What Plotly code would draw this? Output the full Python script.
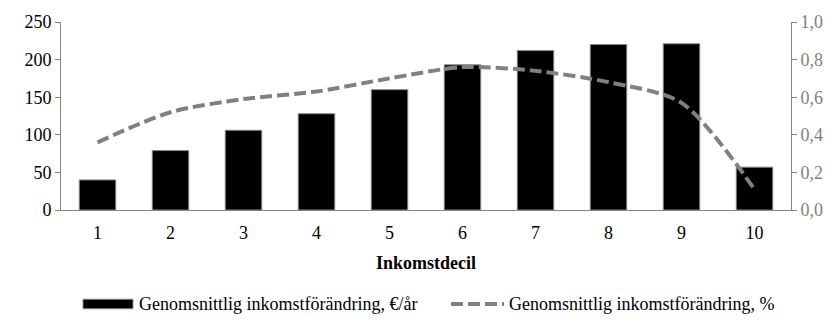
import plotly.graph_objects as go

# Income deciles and average income change per decile
deciles = ["1", "2", "3", "4", "5", "6", "7", "8", "9", "10"]
change_eur = [40, 79, 106, 128, 160, 193, 212, 220, 221, 57]
change_pct = [0.36, 0.52, 0.59, 0.63, 0.70, 0.76, 0.74, 0.68, 0.57, 0.11]

left_ticks = [0, 50, 100, 150, 200, 250]
right_ticks = [0.0, 0.2, 0.4, 0.6, 0.8, 1.0]
right_tick_text = ["0,0", "0,2", "0,4", "0,6", "0,8", "1,0"]

name_eur = "Genomsnittlig inkomstförändring, €/år"
name_pct = "Genomsnittlig inkomstförändring, %"

font_family = "Liberation Serif"
fs = 18
grey = "#868686"
line_grey = "#808080"
dash_pattern = "12px,5px"

# plot area in pixels (used to place the hand-drawn legend)
W, H = 838, 334
ML, MR, MT, MB = 61, 47, 12, 124
pw, ph = W - ML - MR, H - MT - MB


def px_x(x):
    return (x - ML) / pw


def px_y(y):
    return (H - MB - y) / ph


fig = go.Figure()
fig.add_trace(go.Bar(
    x=deciles, y=change_eur, name=name_eur,
    marker=dict(color="black", line=dict(color=grey, width=1)),
    yaxis="y", showlegend=False,
))
fig.add_trace(go.Scatter(
    x=deciles, y=change_pct, name=name_pct, mode="lines",
    line=dict(color=line_grey, width=4, dash=dash_pattern, shape="spline", smoothing=0.8),
    yaxis="y2", showlegend=False,
))

# legend drawn below the chart
leg_y = 309
shapes = [
    dict(type="rect", xref="paper", yref="paper",
         x0=px_x(83), x1=px_x(133), y0=px_y(314), y1=px_y(304),
         fillcolor="black", line=dict(color=grey, width=1)),
    dict(type="line", xref="paper", yref="paper",
         x0=px_x(451), x1=px_x(504), y0=px_y(leg_y), y1=px_y(leg_y),
         line=dict(color=line_grey, width=4, dash=dash_pattern)),
]
annotations = [
    dict(text=name_eur, xref="paper", yref="paper", x=px_x(137), y=px_y(leg_y),
         xanchor="left", yanchor="middle", showarrow=False,
         font=dict(family=font_family, size=fs, color="black")),
    dict(text=name_pct, xref="paper", yref="paper", x=px_x(507), y=px_y(leg_y),
         xanchor="left", yanchor="middle", showarrow=False,
         font=dict(family=font_family, size=fs, color="black")),
]

fig.update_layout(
    width=W, height=H,
    margin=dict(l=ML, r=MR, t=MT, b=MB),
    paper_bgcolor="white", plot_bgcolor="white",
    font=dict(family=font_family, size=fs, color="black"),
    bargap=0.5,
    shapes=shapes, annotations=annotations,
    xaxis=dict(
        type="category",
        showline=True, linecolor=grey, linewidth=1,
        ticks="", showgrid=False, ticklabelstandoff=6,
        tickfont=dict(size=fs, color="black"),
        title=dict(text="<b>Inkomstdecil</b>", font=dict(size=fs, color="black"), standoff=14),
    ),
    yaxis=dict(
        range=[0, 250], tickvals=left_ticks,
        showline=True, linecolor=grey, linewidth=1,
        ticks="outside", ticklen=5, tickcolor=grey,
        showgrid=False, zeroline=False,
        tickfont=dict(size=fs, color="black"),
    ),
    yaxis2=dict(
        range=[0, 1.0], tickvals=right_ticks, ticktext=right_tick_text,
        overlaying="y", side="right",
        showline=True, linecolor=grey, linewidth=1,
        ticks="outside", ticklen=5, tickcolor=grey,
        showgrid=False, zeroline=False,
        tickfont=dict(size=fs, color="#7f7f7f"),
    ),
)

fig.write_html("out.html")
